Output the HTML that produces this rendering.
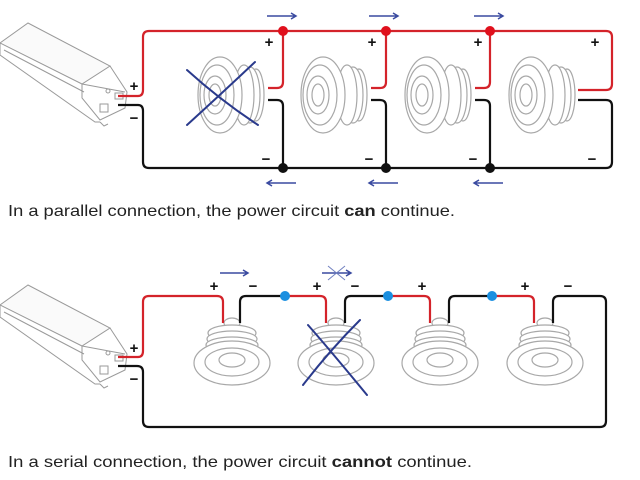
<!DOCTYPE html>
<html><head><meta charset="utf-8"><style>
html,body{margin:0;padding:0;background:#fff;width:640px;height:480px;overflow:hidden}
svg{display:block}
text{font-family:"Liberation Sans",sans-serif}
</style></head><body>
<svg width="640" height="480" viewBox="0 0 640 480" xmlns="http://www.w3.org/2000/svg">
<defs>
<g id="drv" fill="none" stroke="#9a9a9a" stroke-width="1">
 <polygon points="0,43 28,23 110,66 82,84" fill="#fafafa"/>
 <polyline points="0,43 0,55 95,122 100,122"/>
 <polyline points="82,84 82,98 100,120 125,108 127,92 110,66"/>
 <line x1="82" y1="84" x2="125" y2="92"/>
 <line x1="4" y1="50" x2="84" y2="92"/>
 <rect x="100" y="104" width="8" height="8"/>
 <rect x="115" y="93" width="8" height="6"/>
 <circle cx="108" cy="91" r="2"/>
 <polyline points="100,122 104,126 108,124"/>
</g>
<g id="side" fill="#fff" stroke="#a8a8a8" stroke-width="1.2">
 <ellipse cx="36" cy="0" rx="8" ry="26"/>
 <ellipse cx="30" cy="0" rx="10" ry="28"/>
 <ellipse cx="24" cy="0" rx="10" ry="30"/>
 <ellipse cx="0" cy="0" rx="22" ry="38"/>
 <ellipse cx="-3" cy="0" rx="17" ry="30"/>
 <ellipse cx="-5" cy="0" rx="11" ry="19"/>
 <ellipse cx="-5" cy="0" rx="6" ry="11"/>
</g>
<g id="front" fill="#fff" stroke="#a8a8a8" stroke-width="1.2">
 <ellipse cx="0" cy="-20" rx="8" ry="5"/>
 <ellipse cx="0" cy="-10" rx="24" ry="8"/>
 <ellipse cx="0" cy="-4" rx="25" ry="8"/>
 <ellipse cx="0" cy="2" rx="26" ry="8"/>
 <ellipse cx="0" cy="20" rx="38" ry="22"/>
 <ellipse cx="0" cy="19" rx="27" ry="14"/>
 <ellipse cx="0" cy="17" rx="13" ry="7"/>
</g>
</defs>

<use href="#drv"/>
<use href="#side" x="220" y="95"/>
<use href="#side" x="323" y="95"/>
<use href="#side" x="427" y="95"/>
<use href="#side" x="531" y="95"/>
<g fill="none" stroke-width="2.2" stroke-linejoin="round">
 <path d="M118,96 H138 Q143,96 143,90 V37 Q143,31 149,31 H606 Q612,31 612,37 V84 Q612,90 606,90 H578" stroke="#d4232a"/>
 <path d="M283,31 V82 Q283,88 277,88 H268 M386,31 V82 Q386,88 380,88 H371 M490,31 V82 Q490,88 484,88 H475" stroke="#d4232a"/>
 <path d="M118,105 H138 Q143,105 143,111 V162 Q143,168 149,168 H606 Q612,168 612,162 V106 Q612,100 606,100 H578" stroke="#111"/>
 <path d="M283,168 V106 Q283,100 277,100 H268 M386,168 V106 Q386,100 380,100 H371 M490,168 V106 Q490,100 484,100 H475" stroke="#111"/>
</g>
<g fill="#e0101c"><circle cx="283" cy="31" r="5"/><circle cx="386" cy="31" r="5"/><circle cx="490" cy="31" r="5"/></g>
<g fill="#111"><circle cx="283" cy="168" r="5"/><circle cx="386" cy="168" r="5"/><circle cx="490" cy="168" r="5"/></g>
<g stroke="#2a3a8c" stroke-width="2" stroke-linecap="round" fill="none">
 <path d="M187,70 Q220,100 258,125 M187,125 Q220,95 255,62"/>
</g>
<g stroke="#3a4aa0" stroke-width="1.5" fill="none">
 <path d="M267,16 H296 M291,13 L296,16 L291,19"/>
 <path d="M369,16 H398 M393,13 L398,16 L393,19"/>
 <path d="M474,16 H503 M498,13 L503,16 L498,19"/>
 <path d="M267,183 H296 M272,180 L267,183 L272,186"/>
 <path d="M369,183 H398 M374,180 L369,183 L374,186"/>
 <path d="M474,183 H503 M479,180 L474,183 L479,186"/>
</g>
<g font-size="15" font-weight="bold" fill="#111" text-anchor="middle">
 <text x="134" y="91">+</text><text x="134" y="123">−</text>
 <text x="269" y="47">+</text><text x="372" y="47">+</text><text x="478" y="47">+</text><text x="595" y="47">+</text>
 <text x="266" y="164">−</text><text x="369" y="164">−</text><text x="473" y="164">−</text><text x="592" y="164">−</text>
</g>
<text x="8" y="216" font-size="16" fill="#222" textLength="447" lengthAdjust="spacingAndGlyphs">In a parallel connection, the power circuit <tspan font-weight="bold">can</tspan> continue.</text>

<use href="#drv" y="262"/>
<use href="#front" x="232" y="343"/>
<use href="#front" x="336" y="343"/>
<use href="#front" x="440" y="343"/>
<use href="#front" x="545" y="343"/>
<g fill="none" stroke-width="2.2" stroke-linejoin="round">
 <path d="M118,357 H138 Q143,357 143,351 V302 Q143,296 149,296 H217 Q223,296 223,302 V323" stroke="#d4232a"/>
 <path d="M240,323 V302 Q240,296 246,296 H285" stroke="#111"/>
 <path d="M285,296 H320 Q326,296 326,302 V323" stroke="#d4232a"/>
 <path d="M345,323 V302 Q345,296 351,296 H388" stroke="#111"/>
 <path d="M388,296 H424 Q430,296 430,302 V323" stroke="#d4232a"/>
 <path d="M449,323 V302 Q449,296 455,296 H492" stroke="#111"/>
 <path d="M492,296 H528 Q534,296 534,302 V323" stroke="#d4232a"/>
 <path d="M553,323 V302 Q553,296 559,296 H600 Q606,296 606,302 V421 Q606,427 600,427 H149 Q143,427 143,421 V372 Q143,366 137,366 H118" stroke="#111"/>
</g>
<g fill="#1a8fe0"><circle cx="285" cy="296" r="5"/><circle cx="388" cy="296" r="5"/><circle cx="492" cy="296" r="5"/></g>
<g stroke="#2a3a8c" stroke-width="2" stroke-linecap="round" fill="none">
 <path d="M308,325 Q330,350 367,395 M303,385 Q330,350 360,320"/>
</g>
<g stroke="#3a4aa0" stroke-width="1.5" fill="none">
 <path d="M220,273 H248 M243,270 L248,273 L243,276"/>
 <path d="M322,273 H351 M346,270 L351,273 L346,276"/>
 <path d="M328,266 L345,280 M328,280 L345,266" stroke="#7080c0" stroke-width="1"/>
</g>
<g font-size="15" font-weight="bold" fill="#111" text-anchor="middle">
 <text x="134" y="353">+</text><text x="134" y="384">−</text>
 <text x="214" y="291">+</text><text x="253" y="291">−</text>
 <text x="317" y="291">+</text><text x="355" y="291">−</text>
 <text x="422" y="291">+</text><text x="525" y="291">+</text><text x="568" y="291">−</text>
</g>
<text x="8" y="467" font-size="16" fill="#222" textLength="464" lengthAdjust="spacingAndGlyphs">In a serial connection, the power circuit <tspan font-weight="bold">cannot</tspan> continue.</text>
</svg>
</body></html>
